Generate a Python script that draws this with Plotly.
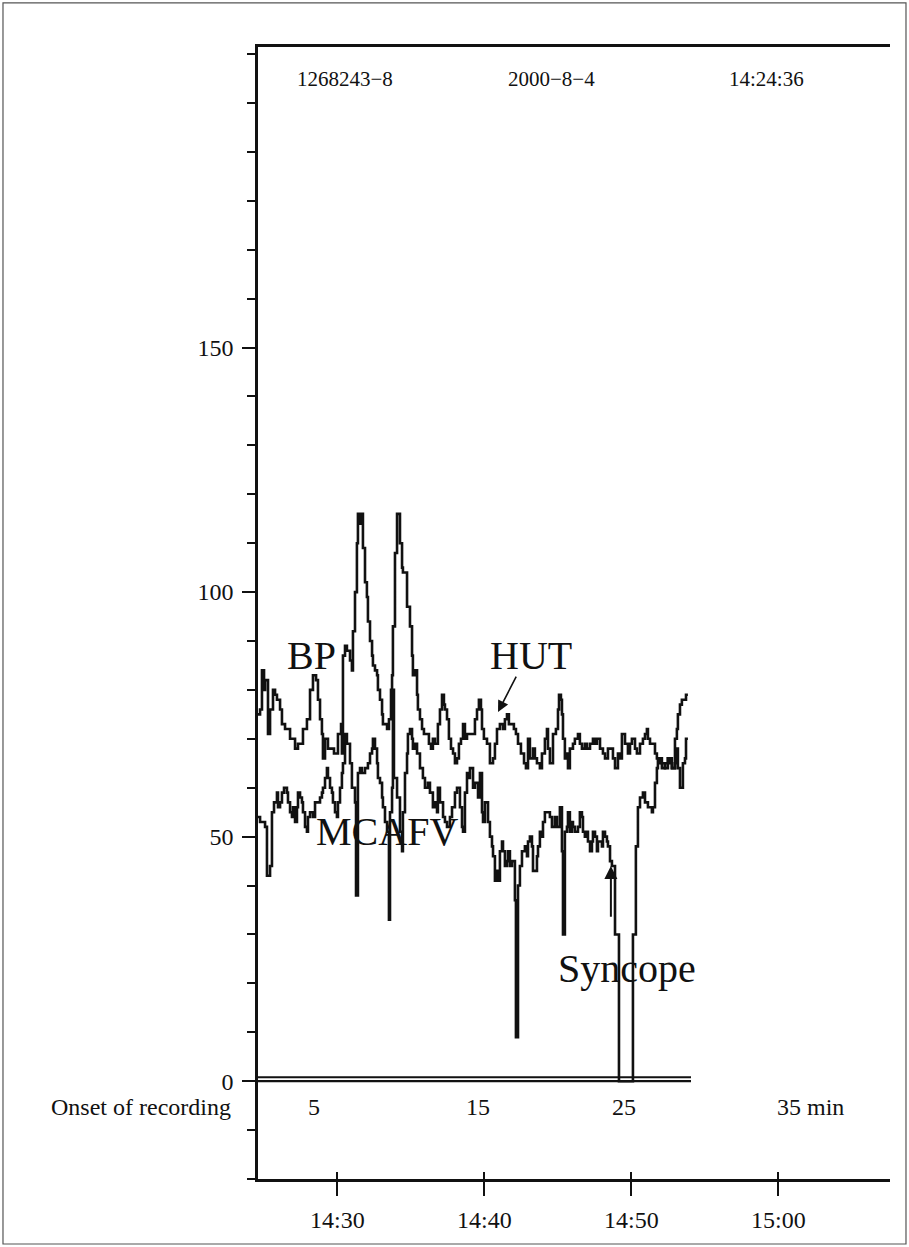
import plotly.graph_objects as go

# ---- data (minutes since onset of recording 14:24:36) ----
bp_samples = [
    (0.00, 75), (0.14, 76), (0.27, 84), (0.41, 80), (0.48, 82), (0.68, 71), (0.82, 76), (1.02, 80),
    (1.16, 79), (1.29, 78), (1.50, 76), (1.63, 73), (1.84, 72), (1.97, 72), (2.18, 70), (2.31, 70),
    (2.52, 68), (2.72, 69), (2.86, 69), (3.06, 72), (3.33, 74), (3.54, 80), (3.74, 83), (3.95, 82),
    (4.08, 78), (4.22, 74), (4.35, 71), (4.42, 66), (4.56, 70), (4.76, 68), (4.90, 68), (5.17, 67),
    (5.37, 67), (5.44, 71), (5.65, 73), (5.71, 67), (5.78, 87), (5.92, 89), (6.05, 88), (6.26, 86),
    (6.39, 84), (6.46, 92), (6.60, 100), (6.73, 110), (6.80, 116), (6.94, 114), (7.01, 116), (7.14, 109),
    (7.28, 102), (7.41, 99), (7.48, 94), (7.62, 90), (7.76, 87), (7.82, 85), (7.96, 84), (8.10, 83),
    (8.16, 80), (8.30, 78), (8.44, 75), (8.50, 73), (8.64, 73), (8.78, 72), (8.91, 74), (9.05, 80),
    (9.12, 83), (9.18, 93), (9.32, 108), (9.46, 116), (9.52, 116), (9.66, 110), (9.80, 105), (9.86, 104),
    (10.00, 104), (10.14, 97), (10.34, 93), (10.48, 87), (10.54, 83), (10.68, 84), (10.82, 79), (10.88, 76),
    (11.02, 74), (11.16, 72), (11.29, 71), (11.50, 71), (11.63, 69), (11.77, 68), (11.90, 70), (12.04, 69),
    (12.24, 73), (12.38, 76), (12.52, 79), (12.65, 77), (12.72, 76), (12.86, 74), (12.99, 70), (13.13, 68),
    (13.27, 67), (13.40, 65), (13.54, 66), (13.67, 69), (13.81, 70), (13.95, 73), (14.08, 70), (14.22, 71),
    (14.35, 71), (14.56, 71), (14.76, 74), (14.90, 76), (15.03, 78), (15.17, 76), (15.24, 72), (15.37, 70),
    (15.58, 69), (15.78, 65), (15.99, 66), (16.12, 69), (16.26, 72), (16.46, 73), (16.67, 72), (16.80, 74),
    (16.94, 75), (17.07, 73), (17.28, 73), (17.41, 72), (17.55, 71), (17.69, 69), (17.89, 67), (18.10, 65),
    (18.23, 64), (18.37, 70), (18.50, 66), (18.71, 68), (18.84, 66), (18.98, 65), (19.18, 64), (19.32, 67),
    (19.52, 70), (19.66, 72), (19.73, 68), (19.86, 65), (20.07, 71), (20.27, 72), (20.41, 76), (20.48, 79),
    (20.61, 78), (20.68, 75), (20.75, 70), (20.88, 66), (21.02, 67), (21.09, 64), (21.22, 68), (21.43, 69),
    (21.56, 70), (21.77, 71), (21.90, 69), (22.04, 68), (22.24, 69), (22.38, 68), (22.59, 69), (22.79, 70),
    (22.93, 69), (23.06, 70), (23.27, 68), (23.47, 67), (23.61, 66), (23.81, 68), (23.95, 68), (24.15, 66),
    (24.29, 64), (24.49, 67), (24.63, 66), (24.76, 71), (24.97, 69), (25.17, 67), (25.31, 69), (25.44, 70),
    (25.65, 68), (25.78, 67), (25.99, 69), (26.19, 70), (26.33, 71), (26.46, 72), (26.53, 70), (26.67, 69),
    (26.80, 69), (27.01, 67), (27.14, 66), (27.35, 65), (27.48, 64), (27.69, 65), (27.89, 66), (28.03, 65),
    (28.16, 64), (28.37, 70), (28.50, 72), (28.57, 75), (28.71, 77), (28.84, 78), (28.98, 78), (29.12, 79),
    (29.25, 79),
]

mcafv_samples = [
    (0.00, 54), (0.14, 53), (0.27, 53), (0.48, 52), (0.61, 42), (0.82, 44), (0.95, 55), (1.09, 57),
    (1.29, 59), (1.36, 56), (1.50, 57), (1.63, 59), (1.77, 60), (1.97, 59), (2.04, 57), (2.18, 55),
    (2.31, 54), (2.38, 56), (2.52, 53), (2.65, 56), (2.72, 59), (2.86, 58), (2.99, 57), (3.06, 55),
    (3.20, 52), (3.33, 51), (3.40, 54), (3.54, 55), (3.74, 54), (3.88, 57), (4.08, 57), (4.22, 58),
    (4.35, 59), (4.42, 60), (4.56, 62), (4.69, 64), (4.76, 62), (4.90, 60), (5.03, 59), (5.10, 57),
    (5.24, 55), (5.37, 54), (5.44, 57), (5.58, 60), (5.71, 63), (5.78, 65), (5.92, 71), (6.05, 69),
    (6.26, 65), (6.39, 60), (6.60, 57), (6.67, 38), (6.80, 63), (6.94, 64), (7.07, 63), (7.28, 64),
    (7.48, 65), (7.62, 67), (7.76, 68), (7.82, 70), (7.96, 68), (8.10, 65), (8.16, 62), (8.30, 61),
    (8.44, 58), (8.50, 56), (8.64, 53), (8.78, 51), (8.91, 33), (8.98, 55), (9.12, 60), (9.18, 80),
    (9.25, 62), (9.46, 58), (9.66, 51), (9.80, 47), (9.86, 55), (10.00, 63), (10.14, 67), (10.20, 71),
    (10.34, 72), (10.48, 70), (10.54, 68), (10.68, 69), (10.82, 67), (11.02, 64), (11.22, 62), (11.36, 60),
    (11.56, 61), (11.70, 59), (11.84, 59), (11.90, 56), (12.04, 57), (12.18, 55), (12.24, 60), (12.38, 57),
    (12.59, 54), (12.72, 53), (12.86, 52), (12.93, 52), (13.06, 54), (13.20, 56), (13.40, 59), (13.54, 60),
    (13.74, 56), (13.88, 52), (13.95, 51), (14.08, 59), (14.22, 63), (14.29, 62), (14.42, 64), (14.56, 64),
    (14.63, 60), (14.76, 61), (14.97, 58), (15.10, 63), (15.24, 55), (15.31, 53), (15.44, 57), (15.58, 57),
    (15.65, 53), (15.78, 50), (15.92, 48), (15.99, 46), (16.12, 41), (16.26, 43), (16.33, 41), (16.46, 47),
    (16.60, 49), (16.67, 47), (16.80, 44), (16.94, 45), (17.01, 47), (17.14, 44), (17.28, 45), (17.35, 45),
    (17.48, 37), (17.55, 9), (17.62, 9), (17.69, 40), (17.82, 44), (17.96, 47), (18.16, 48), (18.30, 46),
    (18.37, 49), (18.50, 50), (18.64, 48), (18.71, 43), (18.84, 43), (18.98, 46), (19.05, 48), (19.18, 51),
    (19.32, 50), (19.39, 53), (19.52, 55), (19.66, 55), (19.86, 54), (20.00, 52), (20.20, 54), (20.34, 52),
    (20.54, 56), (20.68, 47), (20.75, 30), (20.82, 30), (20.88, 51), (21.02, 52), (21.09, 55), (21.22, 51),
    (21.36, 53), (21.43, 52), (21.56, 51), (21.77, 52), (21.90, 55), (22.04, 54), (22.11, 51), (22.24, 50),
    (22.38, 51), (22.45, 49), (22.59, 47), (22.72, 49), (22.79, 51), (22.93, 50), (23.06, 47), (23.13, 49),
    (23.27, 49), (23.40, 48), (23.47, 51), (23.61, 50), (23.74, 49), (23.81, 48), (23.95, 45), (24.08, 44),
    (24.22, 44), (24.29, 30), (24.49, 30), (24.56, 0), (25.44, 0), (25.51, 30), (25.65, 30), (25.71, 48),
    (25.85, 56), (25.99, 58), (26.19, 59), (26.33, 57), (26.53, 56), (26.80, 55), (26.87, 56), (27.01, 61),
    (27.14, 64), (27.21, 66), (27.48, 65), (27.69, 64), (27.89, 66), (28.16, 64), (28.37, 65), (28.50, 68),
    (28.57, 64), (28.71, 60), (28.84, 60), (28.91, 65), (29.05, 66), (29.12, 70), (29.25, 70),
]

baseline_t = [0.0, 29.46]
baseline_upper = [0.8, 0.8]
baseline_lower = [0.0, 0.0]

y_tick_vals = [0, 50, 100, 150]
y_tick_text = ["0", "50", "100", "150"]
clock_tick_vals = [5.4, 15.4, 25.4, 35.4]      # 14:30 .. 15:00 relative to 14:24:36
clock_tick_text = ["14:30", "14:40", "14:50", "15:00"]
minute_labels = ["5", "15", "25", "35 min"]
minute_label_pos = [3.84, 14.97, 24.9, 37.6]
header_texts = ["1268243\u22128", "2000\u22128\u22124", "14:24:36"]
header_pos = [5.9, 20.0, 34.6]

SERIF = "Liberation Serif, Times New Roman, serif"
INK = "#111111"

bp_t = [p[0] for p in bp_samples]
bp_v = [p[1] for p in bp_samples]
mc_t = [p[0] for p in mcafv_samples]
mc_v = [p[1] for p in mcafv_samples]

fig = go.Figure()
line_style = dict(color=INK, width=2.6, shape="hv")
fig.add_trace(go.Scatter(x=bp_t, y=bp_v, mode="lines", line=line_style, name="BP"))
fig.add_trace(go.Scatter(x=mc_t, y=mc_v, mode="lines", line=line_style, name="MCAFV"))
fig.add_trace(go.Scatter(x=baseline_t, y=baseline_upper, mode="lines",
                         line=dict(color=INK, width=2.2), name="base1"))
fig.add_trace(go.Scatter(x=baseline_t, y=baseline_lower, mode="lines",
                         line=dict(color=INK, width=2.2), name="base2"))

X_MAX = 43.0
fig.update_layout(
    width=909, height=1247,
    margin=dict(l=258, r=19, t=47, b=68),
    paper_bgcolor="white", plot_bgcolor="white",
    showlegend=False,
    font=dict(family=SERIF, color=INK, size=24),
    xaxis=dict(range=[0, X_MAX], tickmode="array", tickvals=clock_tick_vals,
               ticktext=clock_tick_text, ticks="outside", ticklen=14, tickwidth=2,
               tickcolor=INK, showline=True, mirror=True, linewidth=2.5, linecolor=INK,
               showgrid=False, zeroline=False, tickfont=dict(size=24, family=SERIF),
               ticklabelstandoff=3),
    xaxis2=dict(range=[0, X_MAX], overlaying="x", anchor="y", side="bottom",
                tickmode="array", tickvals=clock_tick_vals, ticks="inside", ticklen=7,
                tickwidth=2, tickcolor=INK, showticklabels=False, showline=False,
                showgrid=False, zeroline=False),
    yaxis=dict(range=[-20, 211.45], tickmode="array", tickvals=y_tick_vals,
               ticktext=y_tick_text, ticks="outside", ticklen=13, tickwidth=2,
               tickcolor=INK, showline=True, linewidth=2.5, linecolor=INK,
               showgrid=False, zeroline=False, tickfont=dict(size=24, family=SERIF),
               ticklabelstandoff=4,
               minor=dict(tickmode="linear", tick0=0, dtick=10, ticks="outside",
                          ticklen=8, tickwidth=2, tickcolor=INK, showgrid=False)),
)

# invisible marker so that the overlay axis (crossing tick marks) is drawn
fig.add_trace(go.Scatter(x=[0], y=[-30], xaxis="x2", mode="markers",
                         marker=dict(opacity=0), hoverinfo="skip", showlegend=False))

ann = []
for txt, xv in zip(header_texts, header_pos):
    ann.append(dict(text=txt, x=xv, xref="x", y=0.984, yref="paper", showarrow=False,
                    font=dict(size=21, family=SERIF, color=INK)))
ann.append(dict(text="Onset of recording", x=-0.0396, xref="paper", y=-5.3, yref="y",
                xanchor="right", showarrow=False, font=dict(size=24, family=SERIF, color=INK)))
for txt, xv in zip(minute_labels, minute_label_pos):
    ann.append(dict(text=txt, x=xv, xref="x", y=-5.3, yref="y", showarrow=False,
                    font=dict(size=24, family=SERIF, color=INK)))
big = dict(size=40, family=SERIF, color=INK)
ann.append(dict(text="BP", x=3.67, y=87.1, xref="x", yref="y", showarrow=False, font=big))
ann.append(dict(text="HUT", x=18.57, y=87.1, xref="x", yref="y", showarrow=False, font=big))
ann.append(dict(text="MCAFV", x=8.78, y=51.1, xref="x", yref="y", showarrow=False, font=big))
ann.append(dict(text="Syncope", x=25.10, y=23.1, xref="x", yref="y", showarrow=False, font=big))
# arrows
ann.append(dict(text="", x=16.33, y=75.5, xref="x", yref="y", ax=17.62, ay=83.0,
                axref="x", ayref="y", showarrow=True, arrowhead=2, arrowsize=1.4,
                arrowwidth=1.6, arrowcolor=INK))
ann.append(dict(text="", x=24.01, y=44.0, xref="x", yref="y", ax=24.01, ay=33.3,
                axref="x", ayref="y", showarrow=True, arrowhead=2, arrowsize=1.3,
                arrowwidth=2, arrowcolor=INK))
fig.update_layout(annotations=ann)

# outer frame of the figure
fig.add_shape(type="rect", xref="paper", yref="paper",
              x0=-0.4035, x1=1.0253, y0=-0.0574, y1=1.0389,
              line=dict(color="#555555", width=1.2), fillcolor="rgba(0,0,0,0)", layer="below")

fig.write_html("out.html")
